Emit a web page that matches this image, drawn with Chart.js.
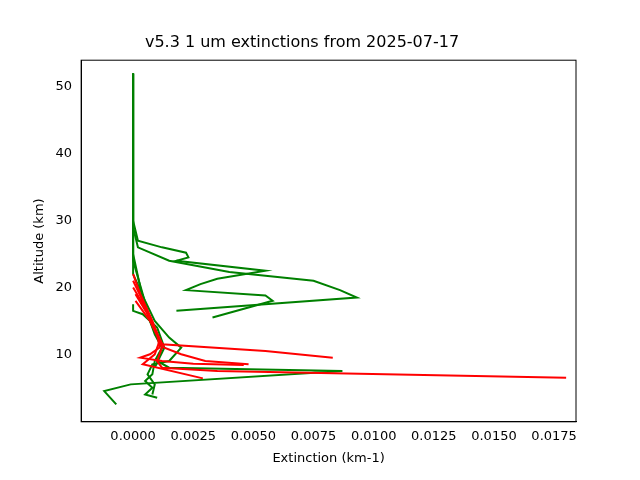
<!DOCTYPE html><html><head><script src="https://cdn.jsdelivr.net/npm/chart.js@4"></script>
<style>body{margin:0;background:#fff}</style></head><body>
<canvas id="c" width="640" height="480" style="width:640px;height:480px"></canvas>
<script>
const xTicks=[0,0.0025,0.005,0.0075,0.01,0.0125,0.015,0.0175];
const yTicks=[10,20,30,40,50];
const green1=[[0,52],[0,30],[0.0002,27],[0.0012,26],[0.0022,25.2],[0.0023,24.5],[0.0018,24],[0.0055,22.5],[0.0035,21.3],[0.0028,20.5],[0.0022,19.6],[0.0055,18.8],[0.0058,18],[0.0033,15.5]];
const green2=[[0,52],[0,29],[0.0002,26],[0.0015,24],[0.004,22.3],[0.0075,21],[0.0086,19.6],[0.0093,18.5],[0.0018,16.5]];
const green3=[[0,52],[0,25],[0.0003,20],[0.0006,16],[0.0009,13],[0.0012,11],[0.0009,9],[0.0008,7],[0.0005,6],[0.0008,5],[0.0005,4],[0.001,3.5]];
const green4=[[0,52],[0,24],[0.0004,19],[0.0007,15],[0.001,12.5],[0.0012,11],[0.001,9],[0.0015,8],[0.0087,7.5],[-0.0001,5.5],[-0.0012,4.5],[-0.0007,2.5]];
const green5=[[0,52],[0,22],[0.0005,18],[0.0009,15],[0.0015,12.5],[0.002,11],[0.0015,9],[0.0008,8.5],[0.0006,7],[0.0009,5.5],[0.0008,4]];
const green6=[[0,17.5],[0,16.5],[0.0004,16],[0.001,14],[0.0013,11],[0.0011,9.5],[0.0009,8]];
const red1=[[0,22],[0.0003,19],[0.0008,15],[0.0012,11],[0.001,9],[0.0012,8],[0.0035,7.5],[0.018,6.5]];
const red2=[[0,21],[0.0004,18],[0.0009,14],[0.0012,11.5],[0.0055,10.5],[0.0083,9.5]];
const red3=[[0,20],[0.0005,17],[0.001,13],[0.0013,11],[0.002,10],[0.003,9],[0.0048,8.5]];
const red4=[[0.0001,19],[0.0006,16],[0.001,13],[0.0011,11],[0.0007,10],[0.0003,9.5],[0.0012,9],[0.0025,8.6],[0.0046,8.4]];
const red5=[[0.0001,18],[0.0007,15],[0.0011,12],[0.0009,10],[0.0004,8.5],[0.0029,6.4]];
const series=[[red1,'red'],[red2,'red'],[red3,'red'],[red4,'red'],[red5,'red'],[green1,'green'],[green2,'green'],[green3,'green'],[green4,'green'],[green5,'green'],[green6,'green']];
const frame={id:'frame',afterDraw(c){const a=c.chartArea,x=c.ctx;x.save();x.strokeStyle='#000';x.lineWidth=1;x.strokeRect(a.left,a.top,a.right-a.left,a.bottom-a.top);x.restore();}};
Chart.defaults.font.family='DejaVu Sans';Chart.defaults.color='#000';
new Chart(document.getElementById('c'),{type:'scatter',
data:{datasets:series.map(([d,c])=>({data:d.map(p=>({x:p[0],y:p[1]})),showLine:true,borderColor:c,borderWidth:2,pointRadius:0,tension:0}))},
options:{responsive:false,animation:false,events:[],
layout:{padding:{left:28,right:64,top:0,bottom:10}},
plugins:{legend:{display:false},tooltip:{enabled:false},title:{display:true,text:'v5.3 1 um extinctions from 2025-07-17',font:{size:16,weight:'normal'},padding:{top:33,bottom:8}}},
scales:{x:{min:-0.00216,max:0.01841,grid:{display:false,tickLength:5},border:{color:'#000'},
afterBuildTicks:s=>{s.ticks=xTicks.map(v=>({value:v}))},ticks:{maxRotation:0,font:{size:13},padding:2,callback:v=>v.toFixed(4)},
title:{display:true,text:'Extinction (km-1)',font:{size:13},padding:{top:4}}},
y:{min:-0.1,max:54,grid:{display:false,tickLength:5},border:{color:'#000'},
afterBuildTicks:s=>{s.ticks=yTicks.map(v=>({value:v}))},ticks:{font:{size:13},padding:4},
title:{display:true,text:'Altitude (km)',font:{size:13}}}}},plugins:[frame]});
</script></body></html>
